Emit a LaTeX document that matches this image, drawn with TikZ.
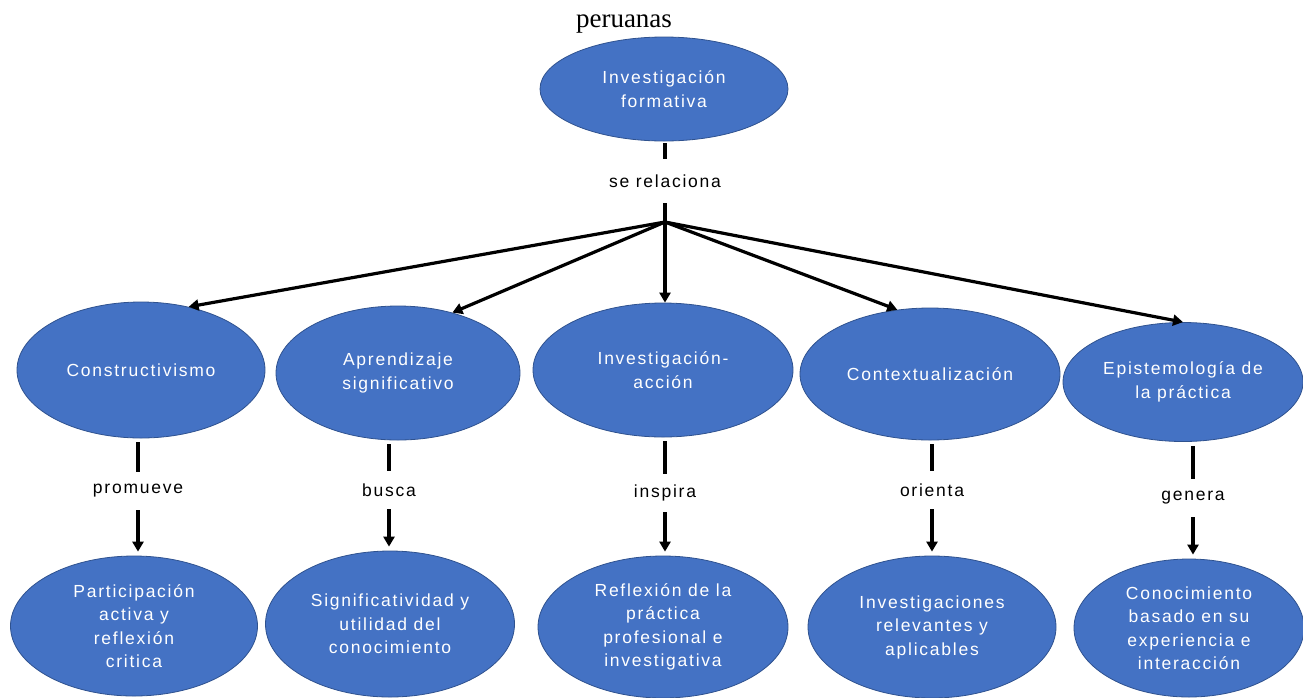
\documentclass[tikz,border=0pt]{standalone}
\usepackage{fontspec}
\setmainfont{Liberation Sans}
\newfontfamily\ellfont[LetterSpace=10]{Liberation Sans}
\newfontfamily\capfont{Liberation Serif}
\usetikzlibrary{shapes.geometric,arrows.meta}
\definecolor{nodeblue}{HTML}{4472C4}
\definecolor{nodeedge}{HTML}{2F528F}
\begin{document}
\begin{tikzpicture}[x=1pt,y=-1pt,
  concept/.style={ellipse, fill=nodeblue, draw=nodeedge, line width=0.8pt, inner sep=0pt,
    text=white, align=center, font=\ellfont\fontsize{17.5}{23.5}\selectfont},
  linklabel/.style={inner sep=0pt, minimum height=38pt, font=\ellfont\fontsize{17.5}{20}\selectfont, text=black},
  conn/.style={line width=3.2pt, black},
  arr/.style={conn, -{Triangle[length=10pt,width=11pt]}},
]
\useasboundingbox (0,0) rectangle (1303,697);

\node[font=\capfont\fontsize{27}{30}\selectfont, inner sep=0pt] (title) at (624,24) {peruanas};

% top
\node[concept, minimum width=248pt, minimum height=104pt] (top) at (664,89) {Investigación\\formativa};
\node[linklabel, minimum height=44pt] (l0) at (665,181) {se relaciona};
\coordinate (j) at (665,222);

% middle row
\node[concept, minimum width=248pt, minimum height=136pt] (c1) at (141,370) {Constructivismo};
\node[concept, minimum width=244pt, minimum height=134pt] (c2) at (398,373) {Aprendizaje\\significativo};
\node[concept, minimum width=260pt, minimum height=134pt] (c3) at (663,370) {Investigación-\\acción};
\node[concept, minimum width=260pt, minimum height=132pt] (c4) at (930,374) {Contextualización};
\node[concept, minimum width=240pt, minimum height=119pt] (c5) at (1183,382) {Epistemología de\\la práctica};

% link labels
\node[linklabel] (l1) at (138,491) {promueve};
\node[linklabel] (l2) at (389,490) {busca};
\node[linklabel] (l3) at (665,493) {inspira};
\node[linklabel] (l4) at (932,490) {orienta};
\node[linklabel] (l5) at (1193,498) {genera};

% bottom row
\node[concept, minimum width=247pt, minimum height=140pt] (b1) at (134,626) {Participación\\activa y\\reflexión\\critica};
\node[concept, minimum width=249pt, minimum height=146pt] (b2) at (390,624) {Significatividad y\\utilidad del\\conocimiento};
\node[concept, minimum width=250pt, minimum height=142pt] (b3) at (663,627) {Reflexión de la\\práctica\\profesional e\\investigativa};
\node[concept, minimum width=248pt, minimum height=142pt] (b4) at (932,627) {Investigaciones\\relevantes y\\aplicables};
\node[concept, minimum width=230pt, minimum height=138pt] (b5) at (1189,628) {Conocimiento\\basado en su\\experiencia e\\interacción};

% connectors top
\draw[conn, shorten <=2pt] (top.south -| l0) -- (l0.north);
\draw[conn] (l0.south) -- (j);
\draw[arr] (j) -- (c1.53);
\draw[arr] (j) -- (c2.48);
\draw[arr] (j) -- (c3.north -| j);
\draw[arr] (j) -- (c4.117);
\draw[arr] (j) -- (c5.north);

% vertical chains
\foreach \c/\l/\b in {c1/l1/b1, c2/l2/b2, c3/l3/b3, c4/l4/b4, c5/l5/b5}{
  \draw[conn, shorten <=4pt] (\c.south -| \l) -- (\l.north);
  \draw[arr, shorten >=4pt] (\l.south) -- (\b.north -| \l);
}
\end{tikzpicture}
\end{document}
